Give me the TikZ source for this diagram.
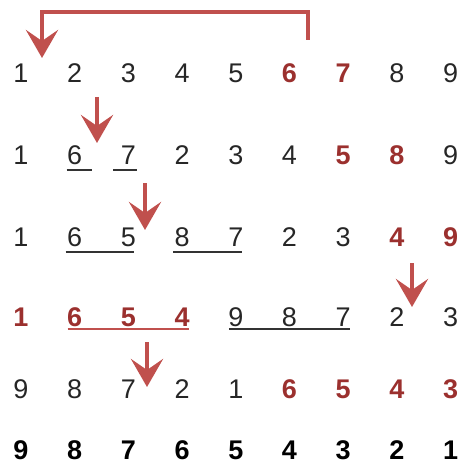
\documentclass[tikz,border=0pt]{standalone}
\usepackage{fontspec}
\setmainfont{Liberation Sans}
\usepackage{tikz}
\usetikzlibrary{arrows.meta, calc}
\definecolor{numred}{RGB}{155, 48, 46}
\definecolor{arrowred}{RGB}{192, 80, 77}
\newcommand{\numfont}{\fontsize{27}{30}\selectfont}

\begin{document}
\begin{tikzpicture}[x=1pt, y=-1pt, font=\numfont,
      dig/.style={inner sep=0pt, text=black!85},
      hot/.style={dig, text=numred, font=\numfont\bfseries},
      fin/.style={dig, text=black, font=\numfont\bfseries},
      arr/.style={draw=arrowred, line width=4.5pt, -{Stealth[length=28pt, width=32pt, inset=11pt]}},
      ul/.style={line width=1.6pt, black!80},
      ulhot/.style={ul, arrowred}]
    \useasboundingbox (0,0) rectangle (461,465);
    % the six rows of digits
    \foreach \d/\s [count=\c] in {1/dig,2/dig,3/dig,4/dig,5/dig,6/hot,7/hot,8/dig,9/dig}
      \node[\s] (r1c\c) at ({21+53.7*(\c-1)},73) {\d};
    \foreach \d/\s [count=\c] in {1/dig,6/dig,7/dig,2/dig,3/dig,4/dig,5/hot,8/hot,9/dig}
      \node[\s] (r2c\c) at ({21+53.7*(\c-1)},155) {\d};
    \foreach \d/\s [count=\c] in {1/dig,6/dig,5/dig,8/dig,7/dig,2/dig,3/dig,4/hot,9/hot}
      \node[\s] (r3c\c) at ({21+53.7*(\c-1)},237) {\d};
    \foreach \d/\s [count=\c] in {1/hot,6/hot,5/hot,4/hot,9/dig,8/dig,7/dig,2/dig,3/dig}
      \node[\s] (r4c\c) at ({21+53.7*(\c-1)},317) {\d};
    \foreach \d/\s [count=\c] in {9/dig,8/dig,7/dig,2/dig,1/dig,6/hot,5/hot,4/hot,3/hot}
      \node[\s] (r5c\c) at ({21+53.7*(\c-1)},389) {\d};
    \foreach \d [count=\c] in {9,8,7,6,5,4,3,2,1}
      \node[fin] (r6c\c) at ({21+53.7*(\c-1)},450) {\d};
    % underlines
    \draw[ul] ($(r2c2)+(-8,15)$) -- ($(r2c2)+(17,15)$);
    \draw[ul] ($(r2c3)+(-15,15)$) -- ($(r2c3)+(9,15)$);
    \draw[ul] ($(r3c2)+(-9,15)$) -- ($(r3c3)+(6,15)$);
    \draw[ul] ($(r3c4)+(-9,15)$) -- ($(r3c5)+(6,15)$);
    \draw[ulhot] ($(r4c2)+(-7,12)$) -- ($(r4c4)+(7,12)$);
    \draw[ul] ($(r4c5)+(-7,12)$) -- ($(r4c7)+(7,12)$);
    % arrows
    \coordinate (s1) at (308,40);
    \coordinate (t1) at (42,58);
    \draw[arr] (s1) -- ++(0,-28) -| (t1);
    \coordinate (s2) at (97,97);
    \coordinate (t2) at (97,143);
    \draw[arr] (s2) -- (t2);
    \coordinate (s3) at (145,183);
    \coordinate (t3) at (145,230);
    \draw[arr] (s3) -- (t3);
    \coordinate (s4) at (412,263);
    \coordinate (t4) at (412,307);
    \draw[arr] (s4) -- (t4);
    \coordinate (s5) at (147,342);
    \coordinate (t5) at (147,387);
    \draw[arr] (s5) -- (t5);
  \end{tikzpicture}
\end{document}
